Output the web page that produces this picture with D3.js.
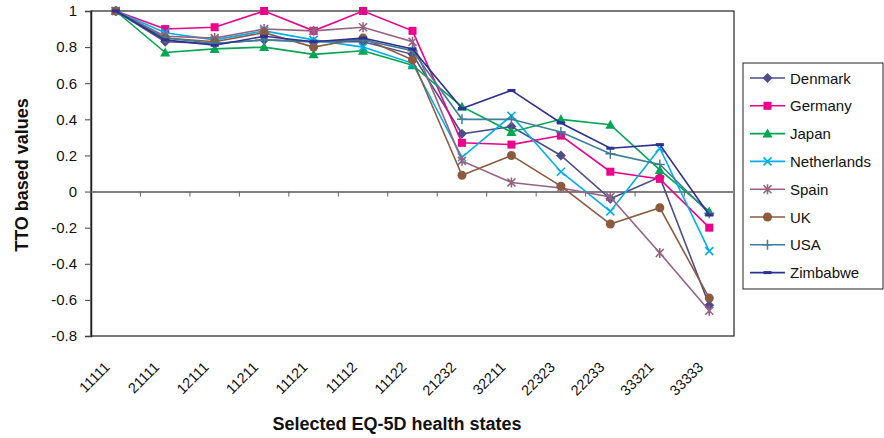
<!DOCTYPE html>
<html><head><meta charset="utf-8">
<script src="https://cdn.jsdelivr.net/npm/d3@7"></script>
<style>body{margin:0;background:#fff}svg{display:block;font-family:"Liberation Sans",Arial,sans-serif}</style>
</head><body><svg id="c" width="884" height="438"></svg>
<script>
const categories = ["11111","21111","12111","11211","11121","11112","11122","21232","32211","22323","22233","33321","33333"];
const yTicks = [1,0.8,0.6,0.4,0.2,0,-0.2,-0.4,-0.6,-0.8];
const seriesNames = ["Denmark","Germany","Japan","Netherlands","Spain","UK","USA","Zimbabwe"];
const denmark     = [1,0.83,0.82,0.84,0.83,0.83,0.76,0.32,0.36,0.20,-0.04,0.08,-0.63];
const germany     = [1,0.90,0.91,1.00,0.89,1.00,0.89,0.27,0.26,0.31,0.11,0.07,-0.20];
const japan       = [1,0.77,0.79,0.80,0.76,0.78,0.70,0.47,0.33,0.40,0.37,0.12,-0.11];
const netherlands = [1,0.88,0.84,0.89,0.84,0.80,0.71,0.19,0.42,0.11,-0.11,0.24,-0.33];
const spain       = [1,0.86,0.85,0.90,0.89,0.91,0.83,0.17,0.05,0.02,-0.03,-0.34,-0.66];
const uk          = [1,0.85,0.83,0.88,0.80,0.85,0.73,0.09,0.20,0.03,-0.18,-0.09,-0.59];
const usa         = [1,0.85,0.82,0.84,0.83,0.84,0.78,0.40,0.40,0.33,0.21,0.15,-0.12];
const zimbabwe    = [1,0.84,0.81,0.86,0.83,0.85,0.79,0.46,0.56,0.38,0.24,0.26,-0.13];

const seriesValues = [denmark,germany,japan,netherlands,spain,uk,usa,zimbabwe];
const colors = ["#4d4d8c","#ec008c","#00a651","#00aeef","#946383","#8c5a3e","#3e7f97","#2e3192"];
const shapes = ["diamond","square","triangle","x","star","circle","plus","dash"];

const svg = d3.select("#c");
const L = 91, R = 734, T = 11, B = 336;
const x = d3.scaleBand().domain(categories).range([L, R]);
const y = d3.scaleLinear().domain([-0.8, 1]).range([B, T]);
const cx = c => x(c) + x.bandwidth()/2;

// plot frame
svg.append("rect").attr("x", L).attr("y", T).attr("width", R-L).attr("height", B-T)
  .attr("fill","none").attr("stroke","#333").attr("stroke-width",1.3);

// y axis
const yAxis = svg.append("g").attr("transform",`translate(${L},0)`)
  .call(d3.axisLeft(y).tickValues(yTicks).tickSize(6).tickPadding(8)
    .tickFormat(d => d3.format("")(Math.round(d*10)/10).replace("−","-")));
yAxis.select(".domain").attr("stroke","#222").attr("stroke-width",1.5);
yAxis.selectAll(".tick line").attr("stroke","#444");
yAxis.selectAll(".tick text").attr("font-size",15).attr("fill","#111").attr("font-family","Liberation Sans, Arial");

// x axis at zero
const xAxis = svg.append("g").attr("transform",`translate(0,${y(0)})`)
  .call(d3.axisBottom(x).tickSize(0).tickFormat(""));
xAxis.select(".domain").attr("stroke","#808080").attr("stroke-width",2);
svg.append("g").selectAll("line").data(categories.slice(1)).join("line")
  .attr("x1", d => x(d)).attr("x2", d => x(d))
  .attr("y1", y(0)).attr("y2", y(0)+5).attr("stroke","#666");

// x labels
svg.append("g").selectAll("text").data(categories).join("text")
  .attr("transform", d => `translate(${cx(d)-5},${368}) rotate(-45)`)
  .attr("text-anchor","end").attr("font-size",14.5).attr("fill","#111").text(d => d);

// titles
svg.append("text").attr("transform",`translate(28,175) rotate(-90)`)
  .attr("text-anchor","middle").attr("font-size",18).attr("font-weight","bold").attr("fill","#111")
  .text("TTO based values");
svg.append("text").attr("x",397).attr("y",430).attr("text-anchor","middle")
  .attr("font-size",18).attr("font-weight","bold").attr("fill","#111").text("Selected EQ-5D health states");

function drawMarker(g, shape, color, px, py, s) {
  const h = s/2;
  if (shape === "diamond") g.append("path").attr("d",`M${px},${py-h-1}L${px+h+1},${py}L${px},${py+h+1}L${px-h-1},${py}Z`).attr("fill",color);
  else if (shape === "square") g.append("rect").attr("x",px-h).attr("y",py-h).attr("width",s).attr("height",s).attr("fill",color);
  else if (shape === "triangle") g.append("path").attr("d",`M${px},${py-h-1}L${px+h+1},${py+h}L${px-h-1},${py+h}Z`).attr("fill",color);
  else if (shape === "circle") g.append("circle").attr("cx",px).attr("cy",py).attr("r",h+0.5).attr("fill",color);
  else if (shape === "x") g.append("path").attr("d",`M${px-h},${py-h}L${px+h},${py+h}M${px-h},${py+h}L${px+h},${py-h}`).attr("stroke",color).attr("stroke-width",1.6).attr("fill","none");
  else if (shape === "star") g.append("path").attr("d",`M${px-h},${py-h}L${px+h},${py+h}M${px-h},${py+h}L${px+h},${py-h}M${px},${py-h-1}L${px},${py+h+1}`).attr("stroke",color).attr("stroke-width",1.6).attr("fill","none");
  else if (shape === "plus") g.append("path").attr("d",`M${px-h-1},${py}L${px+h+1},${py}M${px},${py-h-1}L${px},${py+h+1}`).attr("stroke",color).attr("stroke-width",1.5).attr("fill","none");
  else if (shape === "dash") g.append("rect").attr("x",px-4).attr("y",py-1.5).attr("width",8).attr("height",3).attr("fill",color);
}

const line = d3.line().x((d,i) => cx(categories[i])).y(d => y(d));
seriesValues.forEach((vals, si) => {
  const g = svg.append("g");
  g.append("path").datum(vals).attr("d", line).attr("fill","none")
    .attr("stroke", colors[si]).attr("stroke-width",1.6);
  vals.forEach((v,i) => drawMarker(g, shapes[si], colors[si], cx(categories[i]), y(v), 8));
});

// legend
const lg = svg.append("g");
lg.append("rect").attr("x",743).attr("y",63).attr("width",140).attr("height",226)
  .attr("fill","#fff").attr("stroke","#222").attr("stroke-width",1);
seriesNames.forEach((n, i) => {
  const yy = 78 + i*27.8;
  lg.append("line").attr("x1",750).attr("x2",785).attr("y1",yy).attr("y2",yy).attr("stroke",colors[i]).attr("stroke-width",1.6);
  drawMarker(lg, shapes[i], colors[i], 767.5, yy, 8);
  lg.append("text").attr("x",790).attr("y",yy+5.5).attr("font-size",15).attr("fill","#111").text(n);
});
</script></body></html>
